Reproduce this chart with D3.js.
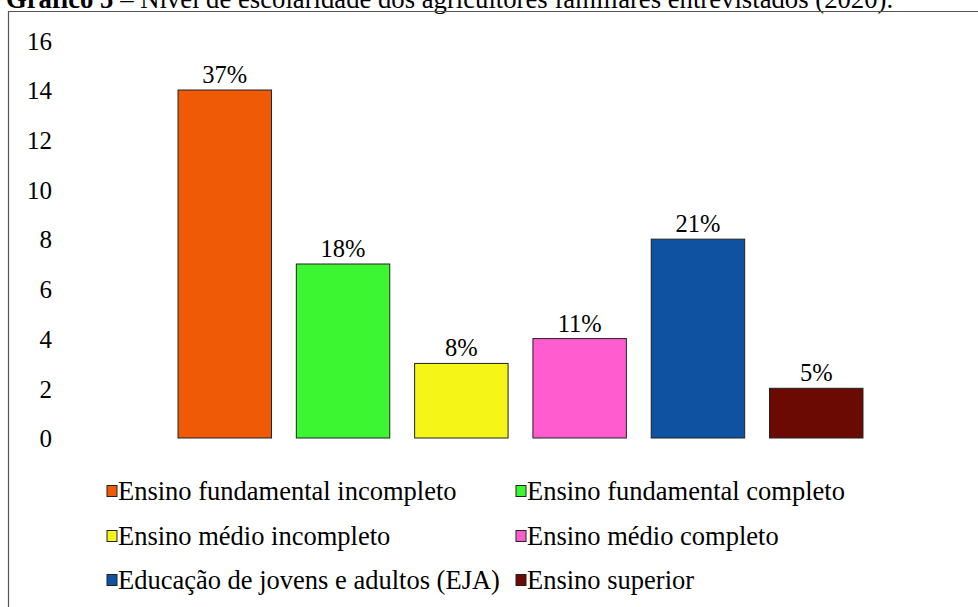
<!DOCTYPE html>
<html>
<head>
<meta charset="utf-8">
<script src="https://cdn.jsdelivr.net/npm/d3@7"></script>
<style>
  html, body { margin: 0; padding: 0; background: #fff; }
  svg { display: block; }
  svg text { font-family: "Liberation Serif", "Times New Roman", serif; }
</style>
</head>
<body>
<svg id="chart" width="978" height="607"></svg>
<script>
const categories = [
  "Ensino fundamental incompleto",
  "Ensino fundamental completo",
  "Ensino médio incompleto",
  "Ensino médio completo",
  "Educação de jovens e adultos (EJA)",
  "Ensino superior"
];
const values = [14, 7, 3, 4, 8, 2];
const percentLabels = ["37%", "18%", "8%", "11%", "21%", "5%"];
const colors = ["#EE5A06", "#3BF631", "#F5F518", "#FF5CD0", "#0F52A2", "#6A0A02"];
const yTicks = [0, 2, 4, 6, 8, 10, 12, 14, 16];
const titleBold = "Gráfico 5";
const titleRest = " – Nível de escolaridade dos agricultores familiares entrevistados (2020).";

const FONT = "'Liberation Serif', 'Times New Roman', serif";
const svg = d3.select("#chart");

// title (clipped at top as in the reference)
const title = svg.append("text").attr("x", 6).attr("y", 8)
  .attr("font-family", FONT).attr("font-size", 26.7).attr("fill", "#000");
title.append("tspan").attr("font-weight", "bold").text(titleBold);
title.append("tspan").text(titleRest);

// frame: left and top borders only visible
svg.append("path")
  .attr("d", "M8.5,607 V11.5 H978")
  .attr("fill", "none").attr("stroke", "#555").attr("stroke-width", 1.2);

const y = d3.scaleLinear().domain([0, 16]).range([438, 40.3]);
const x = d3.scaleBand().domain(categories).range([165.6, 875.4])
  .paddingInner(0.21).paddingOuter(0.105);

// y axis labels (no line, no ticks)
const yAxis = d3.axisLeft(y).tickValues(yTicks).tickSize(0).tickPadding(0);
const gy = svg.append("g").attr("transform", "translate(52,0)").call(yAxis)
  .attr("font-family", FONT);
gy.select(".domain").remove();
gy.selectAll("text").attr("font-family", FONT)
  .attr("font-size", 25).attr("fill", "#000").attr("dy", "0.35em");

// bars
svg.append("g").selectAll("rect").data(categories).join("rect")
  .attr("x", d => x(d))
  .attr("y", (d, i) => y(values[i]))
  .attr("width", x.bandwidth())
  .attr("height", (d, i) => y(0) - y(values[i]))
  .attr("fill", (d, i) => colors[i])
  .attr("stroke", "#222").attr("stroke-width", 1);

// data labels
svg.append("g").selectAll("text").data(categories).join("text")
  .attr("x", d => x(d) + x.bandwidth() / 2)
  .attr("y", (d, i) => y(values[i]) - 7)
  .attr("text-anchor", "middle")
  .attr("font-family", FONT)
  .attr("font-size", 24.5).attr("fill", "#000")
  .text((d, i) => percentLabels[i]);

// legend
const legendCols = [107, 516];
const legendRows = [491, 536, 580];
const lg = svg.append("g");
categories.forEach((c, i) => {
  const cx = legendCols[i % 2];
  const cy = legendRows[Math.floor(i / 2)];
  lg.append("rect").attr("x", cx).attr("y", cy - 5.5)
    .attr("width", 10).attr("height", 11)
    .attr("fill", colors[i]).attr("stroke", "#222").attr("stroke-width", 1);
  lg.append("text").attr("x", cx + 11).attr("y", cy).attr("dy", "0.35em")
    .attr("font-family", FONT)
    .attr("font-size", 26.5).attr("fill", "#000").text(c);
});
</script>
</body>
</html>
